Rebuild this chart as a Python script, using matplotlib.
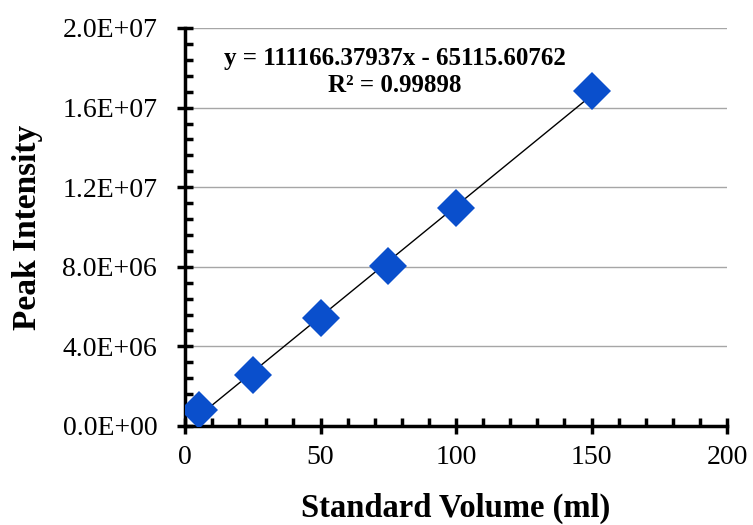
import numpy as np
import matplotlib
matplotlib.use('Agg')
import matplotlib.pyplot as plt
from matplotlib.ticker import MultipleLocator, AutoMinorLocator, FuncFormatter

plt.rcParams['font.family'] = ['Liberation Serif', 'DejaVu Serif']

# calibration points
volume_ml = [5, 25, 50, 75, 100, 150]
peak_intensity = [0.82e6, 2.58e6, 5.45e6, 8.05e6, 1.095e7, 1.683e7]

# linear trendline
slope = 111166.37937
intercept = -65115.60762
r_squared = 0.99898

fig = plt.figure(figsize=(7.53, 5.25), dpi=100)
ax = fig.add_axes([0.2457, 0.1886, 0.7198, 0.7581])

xs = np.array([min(volume_ml), max(volume_ml)])
ax.plot(xs, slope * xs + intercept, color='black', linewidth=1.0, zorder=3)
ax.plot(volume_ml, peak_intensity, 'D', color='#0A4FCC', markersize=19,
        markeredgewidth=0, zorder=4)

ax.set_xlim(0, 200)
ax.set_ylim(0, 2.0e7)
ax.xaxis.set_major_locator(MultipleLocator(50))
ax.xaxis.set_minor_locator(AutoMinorLocator(5))
ax.yaxis.set_major_locator(MultipleLocator(4e6))
ax.yaxis.set_minor_locator(AutoMinorLocator(5))


def sci_fmt(v, pos):
    if v == 0:
        return '0.0E+00'
    exp = int(np.floor(np.log10(abs(v))))
    return f'{v / 10**exp:.1f}E+{exp:02d}'


ax.yaxis.set_major_formatter(FuncFormatter(sci_fmt))

ax.grid(axis='y', which='major', color='#A6A6A6', linewidth=1.0, zorder=0)
ax.set_axisbelow(True)

for side in ['top', 'right']:
    ax.spines[side].set_visible(False)
for side in ['left', 'bottom']:
    ax.spines[side].set_linewidth(2.5)

ax.tick_params(which='major', direction='inout', length=12, width=2.5,
               labelsize=20)
ax.tick_params(axis='x', which='major', pad=8)
ax.tick_params(axis='y', which='major', pad=14)
ax.tick_params(which='minor', direction='in', length=6, width=2.5)

ax.set_xlabel('Standard Volume (ml)', fontsize=23.5, fontweight='bold', labelpad=16)
ax.set_ylabel('Peak Intensity', fontsize=24, fontweight='bold', labelpad=14)

ax.text(77.5, 1.78e7,
        f'y = {slope:.5f}x - {abs(intercept):.5f}\nR² = {r_squared:.5f}',
        ha='center', va='center', fontsize=18, fontweight='bold',
        linespacing=1.2)

fig.savefig('out.png', dpi=100)
plt.close(fig)
